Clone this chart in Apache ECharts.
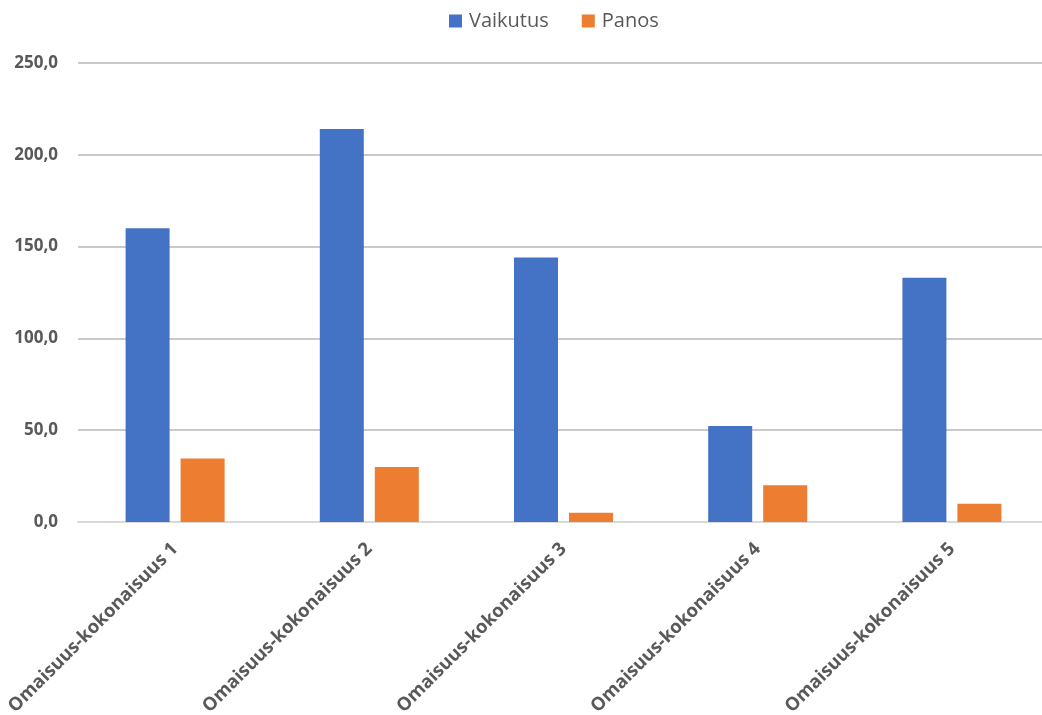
<!DOCTYPE html>
<html>
<head>
<meta charset="utf-8">
<script src="https://cdn.jsdelivr.net/npm/echarts@6/dist/echarts.min.js"></script>
<style>html,body{margin:0;padding:0;background:#fff}#c{width:1042px;height:715px}</style>
</head>
<body>
<div id="c"></div>
<script>
const categories = ['Omaisuus-kokonaisuus 1','Omaisuus-kokonaisuus 2','Omaisuus-kokonaisuus 3','Omaisuus-kokonaisuus 4','Omaisuus-kokonaisuus 5'];
const vaikutus = [160, 214, 144, 52.3, 133];
const panos = [34.6, 30, 5, 20, 10];
const yTicks = [0, 50, 100, 150, 200, 250];

const chart = echarts.init(document.getElementById('c'));
const fmt = v => v.toFixed(1).replace('.', ',');
chart.setOption({
  animation: false,
  textStyle: {fontFamily: 'Open Sans'},
  legend: {
    top: 6, left: 444,
    itemWidth: 13, itemHeight: 13, itemGap: 33,
    icon: 'rect',
    textStyle: {fontSize: 20, color: '#595959', fontFamily: 'Open Sans', padding: [0, 0, 0, 2]},
    data: ['Vaikutus', 'Panos']
  },
  grid: {left: 78, right: -7, top: 63, bottom: 193, containLabel: false, outerBoundsMode: 'none'},
  xAxis: {
    type: 'category',
    data: categories,
    axisLine: {lineStyle: {color: '#d9d9d9', width: 2}},
    axisTick: {show: false},
    axisLabel: {rotate: 45, color: '#595959', fontWeight: 'bold', fontSize: 18.5, fontFamily: 'Open Sans', margin: 24, interval: 0}
  },
  yAxis: {
    type: 'value',
    min: yTicks[0], max: yTicks[yTicks.length - 1], interval: 50,
    axisLine: {show: false},
    axisTick: {show: false},
    splitLine: {lineStyle: {color: '#c9c9c9', width: 2}},
    axisLabel: {formatter: fmt, color: '#595959', fontWeight: 'bold', fontSize: 17, fontFamily: 'Open Sans', margin: 20}
  },
  series: [
    {name: 'Vaikutus', type: 'bar', data: vaikutus, barWidth: 44, barGap: '25%', itemStyle: {color: '#4472c4'}},
    {name: 'Panos', type: 'bar', data: panos, barWidth: 44, itemStyle: {color: '#ed7d31'}}
  ]
});
</script>
</body>
</html>
